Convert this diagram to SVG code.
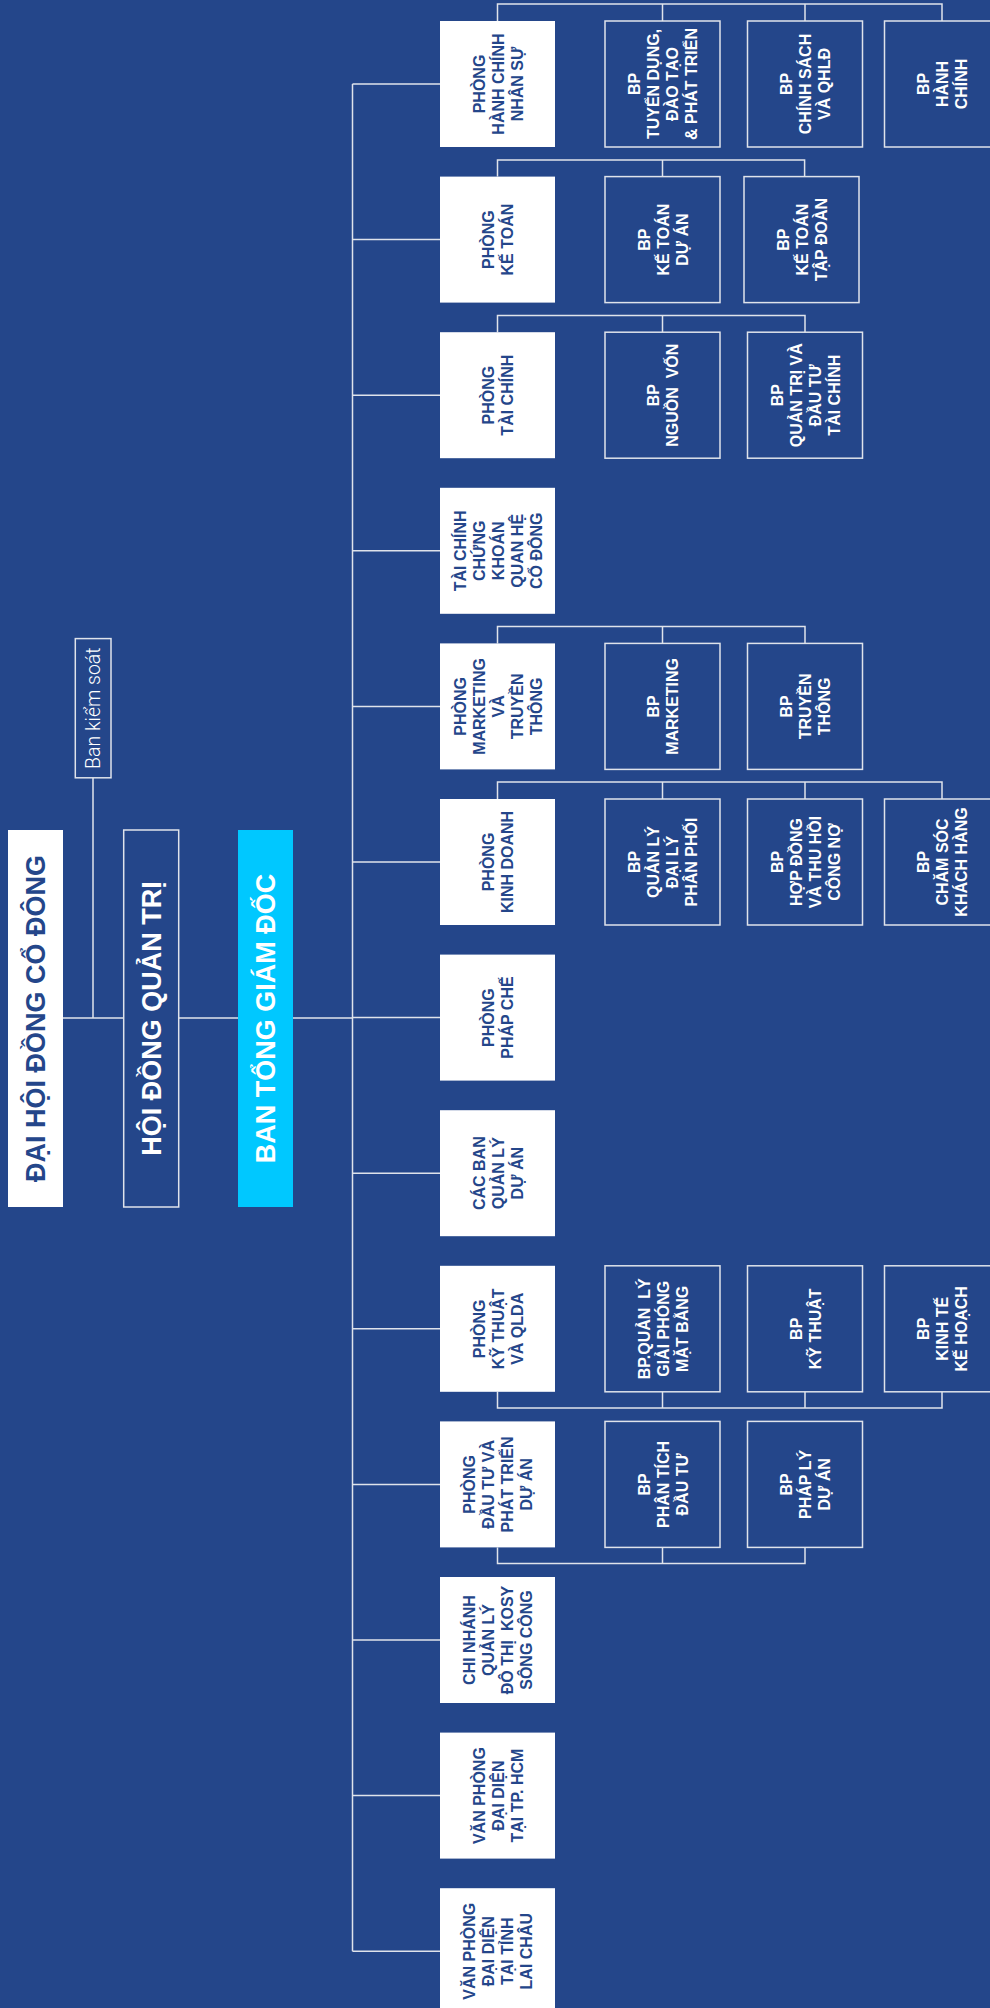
<svg xmlns="http://www.w3.org/2000/svg" width="990" height="2008" viewBox="0 0 990 2008">
<style>
.ln{stroke:#dfe3eb;stroke-width:1.5;fill:none}
.dept{fill:#ffffff}
.sub{fill:#24468a;stroke:#dfe3eb;stroke-width:1.5}
.t{font-family:"Liberation Sans",Arial,sans-serif;font-weight:bold;font-size:16px;text-anchor:middle}
.td{fill:#24468a}
.tw{fill:#ffffff}
.big{font-family:"Liberation Sans",Arial,sans-serif;font-weight:bold;font-size:27px;text-anchor:middle}
.light{font-family:Roboto,"Liberation Sans",Arial,sans-serif;font-weight:300;font-size:19.5px;text-anchor:middle;fill:#ffffff}
</style>
<rect x="0" y="0" width="990" height="2008" fill="#24468a"/>

<g id="connectors">
<path class="ln" d="M63,1018H124M179,1018H238M293,1018H352.5M93,778V1018"/>
<path class="ln" d="M352.5,84V1951.2"/>
<path class="ln" d="M352.5,84H440M352.5,239.6H440M352.5,395.2H440M352.5,550.8H440M352.5,706.4H440M352.5,862H440M352.5,1017.6H440M352.5,1173.2H440M352.5,1328.8H440M352.5,1484.4H440M352.5,1640H440M352.5,1795.6H440M352.5,1951.2H440"/>
<path class="ln" d="M497.5,21V4H942V21M662.5,4V21M805,4V21"/>
<path class="ln" d="M497.5,176.6V160H804.6V176.6M662.5,160V176.6"/>
<path class="ln" d="M497.5,332.2V315.5H805V332.2M662.5,315.5V332.2"/>
<path class="ln" d="M497.5,643.4V626.4H805V643.4M662.5,626.4V643.4"/>
<path class="ln" d="M497.5,799V782H942V799M662.5,782V799M805,782V799"/>
<path class="ln" d="M497.5,1391.8V1408H942V1391.8M662.5,1391.8V1408M805,1391.8V1408"/>
<path class="ln" d="M497.5,1547.4V1563.4H805V1547.4M662.5,1547.4V1563.4"/>
</g>

<g id="dai-hoi-dong-co-dong">
<rect x="8" y="830" width="55" height="377" fill="#ffffff"/>
<text class="big" fill="#24468a" transform="translate(35.5,1018.5) rotate(-90)" x="0" y="9.7">ĐẠI HỘI ĐỒNG CỔ ĐÔNG</text>
</g>
<g id="ban-kiem-soat">
<rect x="75.3" y="638.6" width="35.7" height="139.2" fill="#24468a" stroke="#dfe3eb" stroke-width="1.5"/>
<text class="light" transform="translate(93.2,708.2) rotate(-90)" x="0" y="7">Ban kiểm soát</text>
</g>
<g id="hoi-dong-quan-tri">
<rect x="123.7" y="830" width="55" height="377" fill="#24468a" stroke="#dfe3eb" stroke-width="1.5"/>
<text class="big" fill="#ffffff" transform="translate(151.2,1018.5) rotate(-90)" x="0" y="9.7">HỘI ĐỒNG QUẢN TRỊ</text>
</g>
<g id="ban-tong-giam-doc">
<rect x="238" y="830" width="55" height="377" fill="#00c8ff"/>
<text class="big" fill="#ffffff" transform="translate(265.5,1018.5) rotate(-90)" x="0" y="9.7">BAN TỔNG GIÁM ĐỐC</text>
</g>

<!-- Row 0 -->
<g id="p-hcns">
<rect class="dept" x="440" y="21" width="115" height="126"/>
<text class="t td" transform="translate(497.5,84) rotate(-90)"><tspan x="0" y="-13">PHÒNG</tspan><tspan x="0" y="6">HÀNH CHÍNH</tspan><tspan x="0" y="25">NHÂN SỰ</tspan></text>
</g>
<g id="bp-tuyen-dung">
<rect class="sub" x="605" y="21" width="115" height="126"/>
<text class="t tw" transform="translate(662.5,84) rotate(-90)"><tspan x="0" y="-22.5">BP</tspan><tspan x="0" y="-3.5">TUYỂN DỤNG,</tspan><tspan x="0" y="15.5">ĐÀO TẠO</tspan><tspan x="0" y="34.5">&amp; PHÁT TRIỂN</tspan></text>
</g>
<g id="bp-chinh-sach">
<rect class="sub" x="747.5" y="21" width="115" height="126"/>
<text class="t tw" transform="translate(805,84) rotate(-90)"><tspan x="0" y="-13">BP</tspan><tspan x="0" y="6">CHÍNH SÁCH</tspan><tspan x="0" y="25">VÀ QHLĐ</tspan></text>
</g>
<g id="bp-hanh-chinh">
<rect class="sub" x="884.5" y="21" width="115" height="126"/>
<text class="t tw" transform="translate(942,84) rotate(-90)"><tspan x="0" y="-13">BP</tspan><tspan x="0" y="6">HÀNH</tspan><tspan x="0" y="25">CHÍNH</tspan></text>
</g>

<!-- Row 1 -->
<g id="p-ke-toan">
<rect class="dept" x="440" y="176.6" width="115" height="126"/>
<text class="t td" transform="translate(497.5,239.6) rotate(-90)"><tspan x="0" y="-3.5">PHÒNG</tspan><tspan x="0" y="15.5">KẾ TOÁN</tspan></text>
</g>
<g id="bp-ke-toan-du-an">
<rect class="sub" x="605" y="176.6" width="115" height="126"/>
<text class="t tw" transform="translate(662.5,239.6) rotate(-90)"><tspan x="0" y="-13">BP</tspan><tspan x="0" y="6">KẾ TOÁN</tspan><tspan x="0" y="25">DỰ ÁN</tspan></text>
</g>
<g id="bp-ke-toan-tap-doan">
<rect class="sub" x="744" y="176.6" width="115" height="126"/>
<text class="t tw" transform="translate(801.5,239.6) rotate(-90)"><tspan x="0" y="-13">BP</tspan><tspan x="0" y="6">KẾ TOÁN</tspan><tspan x="0" y="25">TẬP ĐOÀN</tspan></text>
</g>

<!-- Row 2 -->
<g id="p-tai-chinh">
<rect class="dept" x="440" y="332.2" width="115" height="126"/>
<text class="t td" transform="translate(497.5,395.2) rotate(-90)"><tspan x="0" y="-3.5">PHÒNG</tspan><tspan x="0" y="15.5">TÀI CHÍNH</tspan></text>
</g>
<g id="bp-nguon-von">
<rect class="sub" x="605" y="332.2" width="115" height="126"/>
<text class="t tw" transform="translate(662.5,395.2) rotate(-90)" xml:space="preserve"><tspan x="0" y="-3.5">BP</tspan><tspan x="0" y="15.5">NGUỒN  VỐN</tspan></text>
</g>
<g id="bp-quan-tri-dau-tu">
<rect class="sub" x="747.5" y="332.2" width="115" height="126"/>
<text class="t tw" transform="translate(805,395.2) rotate(-90)"><tspan x="0" y="-22.5">BP</tspan><tspan x="0" y="-3.5">QUẢN TRỊ VÀ</tspan><tspan x="0" y="15.5">ĐẦU TƯ</tspan><tspan x="0" y="34.5">TÀI CHÍNH</tspan></text>
</g>

<!-- Row 3 -->
<g id="p-tcck">
<rect class="dept" x="440" y="487.8" width="115" height="126"/>
<text class="t td" transform="translate(497.5,550.8) rotate(-90)"><tspan x="0" y="-32">TÀI CHÍNH</tspan><tspan x="0" y="-13">CHỨNG</tspan><tspan x="0" y="6">KHOÁN</tspan><tspan x="0" y="25">QUAN HỆ</tspan><tspan x="0" y="44">CỔ ĐÔNG</tspan></text>
</g>

<!-- Row 4 -->
<g id="p-marketing">
<rect class="dept" x="440" y="643.4" width="115" height="126"/>
<text class="t td" transform="translate(497.5,706.4) rotate(-90)"><tspan x="0" y="-32">PHÒNG</tspan><tspan x="0" y="-13">MARKETING</tspan><tspan x="0" y="6">VÀ</tspan><tspan x="0" y="25">TRUYỀN</tspan><tspan x="0" y="44">THÔNG</tspan></text>
</g>
<g id="bp-marketing">
<rect class="sub" x="605" y="643.4" width="115" height="126"/>
<text class="t tw" transform="translate(662.5,706.4) rotate(-90)"><tspan x="0" y="-3.5">BP</tspan><tspan x="0" y="15.5">MARKETING</tspan></text>
</g>
<g id="bp-truyen-thong">
<rect class="sub" x="747.5" y="643.4" width="115" height="126"/>
<text class="t tw" transform="translate(805,706.4) rotate(-90)"><tspan x="0" y="-13">BP</tspan><tspan x="0" y="6">TRUYỀN</tspan><tspan x="0" y="25">THÔNG</tspan></text>
</g>

<!-- Row 5 -->
<g id="p-kinh-doanh">
<rect class="dept" x="440" y="799" width="115" height="126"/>
<text class="t td" transform="translate(497.5,862) rotate(-90)"><tspan x="0" y="-3.5">PHÒNG</tspan><tspan x="0" y="15.5">KINH DOANH</tspan></text>
</g>
<g id="bp-quan-ly-dai-ly">
<rect class="sub" x="605" y="799" width="115" height="126"/>
<text class="t tw" transform="translate(662.5,862) rotate(-90)"><tspan x="0" y="-22.5">BP</tspan><tspan x="0" y="-3.5">QUẢN LÝ</tspan><tspan x="0" y="15.5">ĐẠI LÝ</tspan><tspan x="0" y="34.5">PHÂN PHỐI</tspan></text>
</g>
<g id="bp-hop-dong">
<rect class="sub" x="747.5" y="799" width="115" height="126"/>
<text class="t tw" transform="translate(805,862) rotate(-90)"><tspan x="0" y="-22.5">BP</tspan><tspan x="0" y="-3.5">HỢP ĐỒNG</tspan><tspan x="0" y="15.5">VÀ THU HỒI</tspan><tspan x="0" y="34.5">CÔNG NỢ</tspan></text>
</g>
<g id="bp-cham-soc">
<rect class="sub" x="884.5" y="799" width="115" height="126"/>
<text class="t tw" transform="translate(942,862) rotate(-90)"><tspan x="0" y="-13">BP</tspan><tspan x="0" y="6">CHĂM SÓC</tspan><tspan x="0" y="25">KHÁCH HÀNG</tspan></text>
</g>

<!-- Row 6 -->
<g id="p-phap-che">
<rect class="dept" x="440" y="954.6" width="115" height="126"/>
<text class="t td" transform="translate(497.5,1017.6) rotate(-90)"><tspan x="0" y="-3.5">PHÒNG</tspan><tspan x="0" y="15.5">PHÁP CHẾ</tspan></text>
</g>

<!-- Row 7 -->
<g id="cac-ban-qlda">
<rect class="dept" x="440" y="1110.2" width="115" height="126"/>
<text class="t td" transform="translate(497.5,1173.2) rotate(-90)"><tspan x="0" y="-13">CÁC BAN</tspan><tspan x="0" y="6">QUẢN LÝ</tspan><tspan x="0" y="25">DỰ ÁN</tspan></text>
</g>

<!-- Row 8 -->
<g id="p-ky-thuat">
<rect class="dept" x="440" y="1265.8" width="115" height="126"/>
<text class="t td" transform="translate(497.5,1328.8) rotate(-90)"><tspan x="0" y="-13">PHÒNG</tspan><tspan x="0" y="6">KỸ THUẬT</tspan><tspan x="0" y="25">VÀ QLDA</tspan></text>
</g>
<g id="bp-gpmb">
<rect class="sub" x="605" y="1265.8" width="115" height="126"/>
<text class="t tw" transform="translate(662.5,1328.8) rotate(-90)" xml:space="preserve"><tspan x="0" y="-13">BP.QUẢN  LÝ</tspan><tspan x="0" y="6">GIẢI PHÓNG</tspan><tspan x="0" y="25">MẶT BẰNG</tspan></text>
</g>
<g id="bp-ky-thuat">
<rect class="sub" x="747.5" y="1265.8" width="115" height="126"/>
<text class="t tw" transform="translate(805,1328.8) rotate(-90)"><tspan x="0" y="-3.5">BP</tspan><tspan x="0" y="15.5">KỸ THUẬT</tspan></text>
</g>
<g id="bp-kinh-te">
<rect class="sub" x="884.5" y="1265.8" width="115" height="126"/>
<text class="t tw" transform="translate(942,1328.8) rotate(-90)"><tspan x="0" y="-13">BP</tspan><tspan x="0" y="6">KINH TẾ</tspan><tspan x="0" y="25">KẾ HOẠCH</tspan></text>
</g>

<!-- Row 9 -->
<g id="p-dau-tu">
<rect class="dept" x="440" y="1421.4" width="115" height="126"/>
<text class="t td" transform="translate(497.5,1484.4) rotate(-90)"><tspan x="0" y="-22.5">PHÒNG</tspan><tspan x="0" y="-3.5">ĐẦU TƯ VÀ</tspan><tspan x="0" y="15.5">PHÁT TRIỂN</tspan><tspan x="0" y="34.5">DỰ ÁN</tspan></text>
</g>
<g id="bp-phan-tich">
<rect class="sub" x="605" y="1421.4" width="115" height="126"/>
<text class="t tw" transform="translate(662.5,1484.4) rotate(-90)"><tspan x="0" y="-13">BP</tspan><tspan x="0" y="6">PHÂN TÍCH</tspan><tspan x="0" y="25">ĐẦU TƯ</tspan></text>
</g>
<g id="bp-phap-ly">
<rect class="sub" x="747.5" y="1421.4" width="115" height="126"/>
<text class="t tw" transform="translate(805,1484.4) rotate(-90)"><tspan x="0" y="-13">BP</tspan><tspan x="0" y="6">PHÁP LÝ</tspan><tspan x="0" y="25">DỰ ÁN</tspan></text>
</g>

<!-- Row 10 -->
<g id="chi-nhanh">
<rect class="dept" x="440" y="1577" width="115" height="126"/>
<text class="t td" transform="translate(497.5,1640) rotate(-90)" xml:space="preserve"><tspan x="0" y="-22.5">CHI NHÁNH</tspan><tspan x="0" y="-3.5">QUẢN LÝ</tspan><tspan x="0" y="15.5">ĐÔ THỊ  KOSY</tspan><tspan x="0" y="34.5">SÔNG CÔNG</tspan></text>
</g>

<!-- Row 11 -->
<g id="vp-hcm">
<rect class="dept" x="440" y="1732.6" width="115" height="126"/>
<text class="t td" transform="translate(497.5,1795.6) rotate(-90)"><tspan x="0" y="-13">VĂN PHÒNG</tspan><tspan x="0" y="6">ĐẠI DIỆN</tspan><tspan x="0" y="25">TẠI TP. HCM</tspan></text>
</g>

<!-- Row 12 -->
<g id="vp-lai-chau">
<rect class="dept" x="440" y="1888.2" width="115" height="126"/>
<text class="t td" transform="translate(497.5,1951.2) rotate(-90)"><tspan x="0" y="-22.5">VĂN PHÒNG</tspan><tspan x="0" y="-3.5">ĐẠI DIỆN</tspan><tspan x="0" y="15.5">TẠI TỈNH</tspan><tspan x="0" y="34.5">LAI CHÂU</tspan></text>
</g>
</svg>
